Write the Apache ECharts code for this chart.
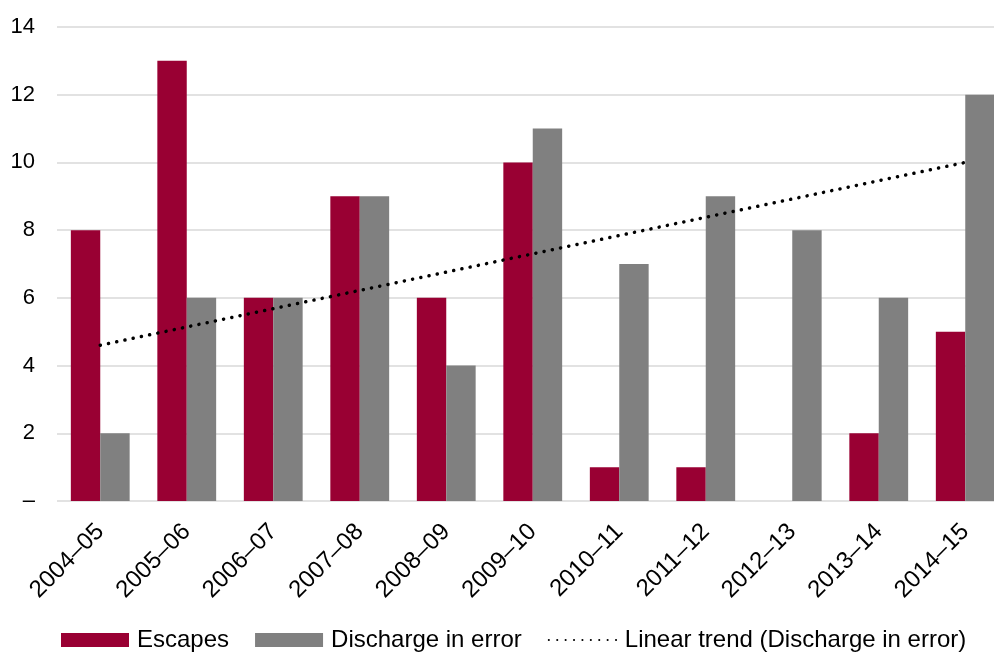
<!DOCTYPE html>
<html>
<head>
<meta charset="utf-8">
<script src="https://cdn.jsdelivr.net/npm/echarts@6/dist/echarts.min.js"></script>
<style>
  html, body { margin: 0; padding: 0; background: #fff; }
  #chart { width: 994px; height: 653px; }
</style>
</head>
<body>
<div id="chart"></div>
<script>
// data
const years = ['2004–05', '2005–06', '2006–07', '2007–08', '2008–09', '2009–10',
  '2010–11', '2011–12', '2012–13', '2013–14', '2014–15'];
const escapes = [8, 13, 6, 9, 6, 10, 1, 1, null, 2, 5];
const discharge = [2, 6, 6, 9, 4, 11, 7, 9, 8, 6, 12];
// trend line end points (first and last year)
const trendStart = 4.6;
const trendEnd = 10.0;

const trend = years.map((y, i) => i === 0 ? trendStart : (i === years.length - 1 ? trendEnd : null));

const font = 'Liberation Sans, Arial, sans-serif';
const chart = echarts.init(document.getElementById('chart'));

const option = {
  backgroundColor: '#fff',
  animation: false,
  textStyle: { fontFamily: font, color: '#000' },
  grid: { left: 57, top: 27, bottom: 152, width: 951.5, outerBoundsMode: 'none', containLabel: false },
  legend: {
    left: 61,
    bottom: 1,
    padding: 0,
    itemWidth: 68,
    itemHeight: 14,
    itemGap: 26,
    textStyle: { fontSize: 24, color: '#000', fontFamily: font, padding: [0, 0, 0, 3] },
    data: [
      { name: 'Escapes', icon: 'rect' },
      { name: 'Discharge in error', icon: 'rect' },
      { name: 'Linear trend (Discharge in error)', itemStyle: { opacity: 0 } }
    ]
  },
  xAxis: {
    type: 'category',
    data: years,
    axisLine: { show: false },
    axisTick: { show: false },
    axisLabel: { rotate: 45, fontSize: 24, color: '#000', margin: 27, fontFamily: font, interval: 0 }
  },
  yAxis: {
    type: 'value',
    min: 0,
    max: 14,
    interval: 2,
    axisLine: { show: false },
    axisTick: { show: false },
    axisLabel: {
      fontSize: 22, color: '#000', margin: 22, fontFamily: font,
      formatter: v => v === 0 ? '–' : String(v)
    },
    splitLine: { lineStyle: { color: '#d9d9d9', width: 1.5 } }
  },
  series: [
    {
      name: 'Escapes',
      type: 'bar',
      data: escapes,
      barGap: '0%',
      barCategoryGap: '32%',
      itemStyle: { color: '#990033' }
    },
    {
      name: 'Discharge in error',
      type: 'bar',
      data: discharge,
      itemStyle: { color: '#808080' }
    },
    {
      name: 'Linear trend (Discharge in error)',
      type: 'line',
      data: trend,
      connectNulls: true,
      showSymbol: false,
      symbol: 'none',
      z: 5,
      itemStyle: { color: '#000' },
      lineStyle: { color: '#000', width: 3.5, type: [0.1, 8.3], cap: 'round' }
    }
  ]
};

chart.setOption(option);
</script>
</body>
</html>
